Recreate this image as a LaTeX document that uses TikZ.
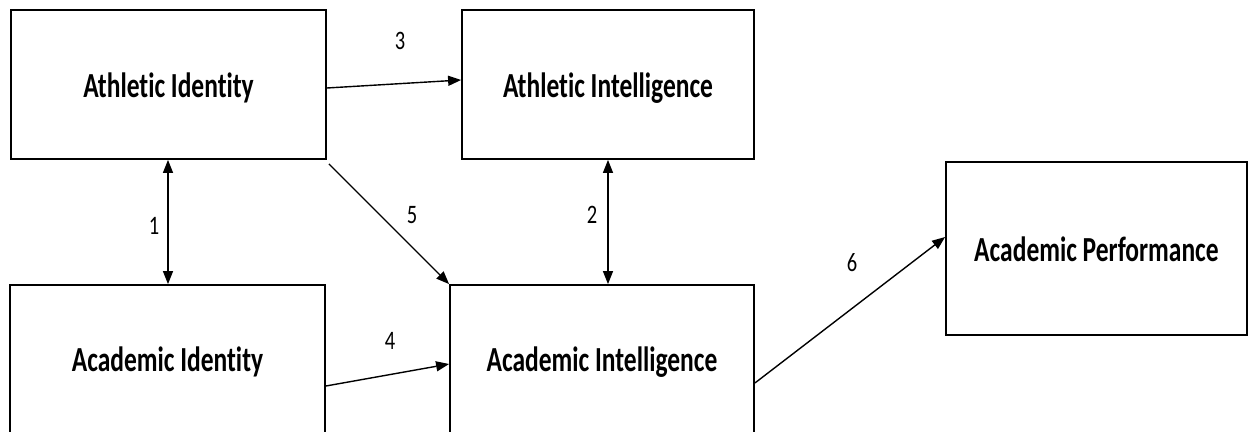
\documentclass[tikz,border=0pt]{standalone}
\usepackage{fontspec}
\setmainfont[Ligatures=NoCommon]{Carlito}
\usetikzlibrary{arrows.meta,calc}
\newcommand{\boxtxt}[1]{\raisebox{-12.5pt}[0pt][0pt]{\scalebox{1}[1.38]{#1}}}
\newcommand{\lbltxt}[1]{\scalebox{1}[1.3]{#1}}
\begin{document}
\begin{tikzpicture}[x=1pt,y=-1pt,
  box/.style={draw=black,line width=1.8pt,rectangle,inner sep=0pt,
    font=\fontsize{25.5}{30}\selectfont\bfseries},
  conn/.style={line width=1.4pt,-{Triangle[length=13pt,width=10pt]}},
  dconn/.style={line width=1.4pt,{Triangle[length=13pt,width=10pt]}-{Triangle[length=13pt,width=10pt]}},
  lbl/.style={inner sep=0pt,font=\fontsize{20.5}{24}\selectfont}]
\clip (0,0) rectangle (1249,431);
\fill[white] (0,0) rectangle (1249,431);
\node[box,minimum width=315pt,minimum height=149pt] (athid) at (168.5,84.5) {\boxtxt{Athletic Identity}};
\node[box,minimum width=292pt,minimum height=149pt] (athint) at (608,84.5) {\boxtxt{Athletic Intelligence}};
\node[box,minimum width=315pt,minimum height=148pt] (acid) at (167.5,359) {\boxtxt{Academic Identity}};
\node[box,minimum width=304pt,minimum height=148pt] (acint) at (602,359) {\boxtxt{Academic Intelligence}};
\node[box,minimum width=301pt,minimum height=173pt] (acperf) at (1096.5,248.5) {\boxtxt{Academic Performance}};
\draw[conn] ($(athid.east)+(0,3.5)$) -- ($(athint.west)+(0,-4.5)$);
\draw[dconn] ($(athid.south)+(-0.5,0)$) -- ($(athid.south |- acid.north)+(-0.5,0)$);
\draw[dconn] (athint.south) -- (athint.south |- acint.north);
\draw[conn] ($(athid.south east)+(2,4)$) -- (acint.north west);
\draw[conn] ($(acid.east)+(0,27)$) -- ($(acint.west)+(0,5)$);
\draw[conn] ($(acint.east)+(0,24)$) -- ($(acperf.west)+(0,-11.5)$);
\node[lbl] (l3) at (400,41) {\lbltxt{3}};
\node[lbl] (l1) at (154,226) {\lbltxt{1}};
\node[lbl] (l5) at (412,215) {\lbltxt{5}};
\node[lbl] (l2) at (592,215) {\lbltxt{2}};
\node[lbl] (l4) at (390,341) {\lbltxt{4}};
\node[lbl] (l6) at (852,263) {\lbltxt{6}};
\end{tikzpicture}
\end{document}
